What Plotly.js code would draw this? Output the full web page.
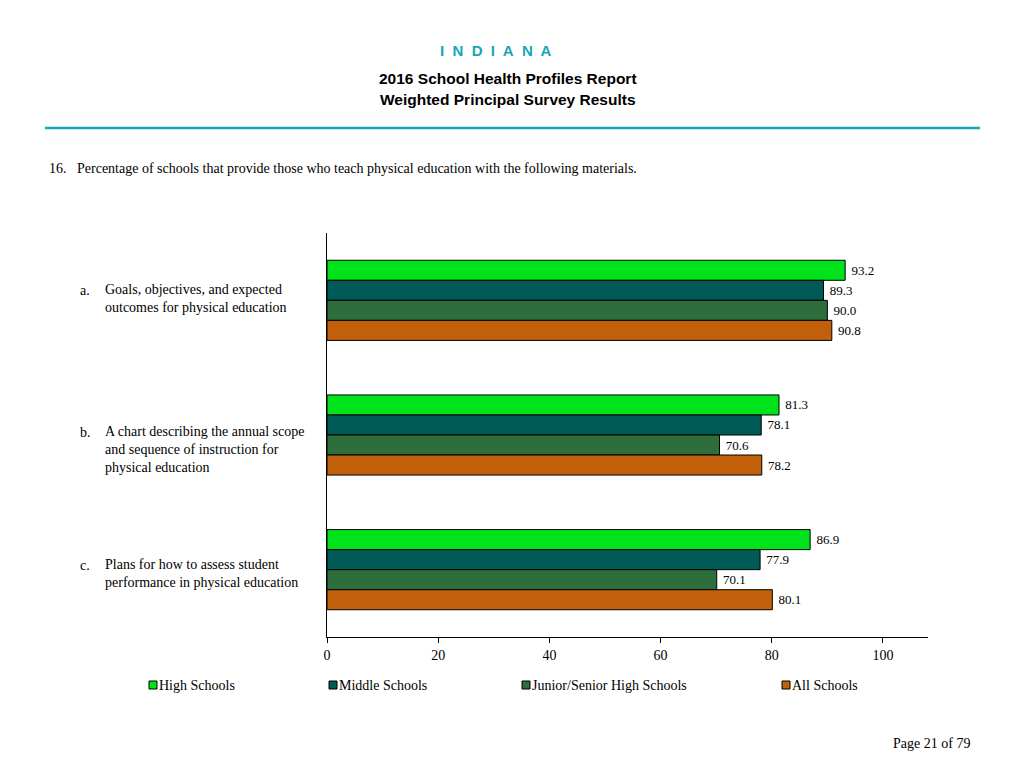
<!DOCTYPE html>
<html>
<head>
<meta charset="utf-8">
<script src="https://cdn.plot.ly/plotly-3.0.1.min.js"></script>
<style>html,body{margin:0;padding:0;background:#fff;}#chart{width:1024px;height:768px;}</style>
</head>
<body>
<div id="chart"></div>
<script>
const categories = ["a", "b", "c"];
const categoryLetters = ["a.", "b.", "c."];
const categoryLabels = [
  "Goals, objectives, and expected<br>outcomes for physical education",
  "A chart describing the annual scope<br>and sequence of instruction for<br>physical education",
  "Plans for how to assess student<br>performance in physical education"
];
const seriesNames = ["High Schools", "Middle Schools", "Junior/Senior High Schools", "All Schools"];
const highSchools = [93.2, 81.3, 86.9];
const middleSchools = [89.3, 78.1, 77.9];
const juniorSenior = [90.0, 70.6, 70.1];
const allSchools = [90.8, 78.2, 80.1];
const xTicks = [0, 20, 40, 60, 80, 100];

const seriesValues = [highSchools, middleSchools, juniorSenior, allSchools];
const colors = ["#00e21a", "#005a55", "#2d6e3c", "#c25f0b"];
const serif = "Liberation Serif, Times New Roman, serif";
const sans = "Liberation Sans, Arial, sans-serif";

const traces = seriesValues.map((vals, i) => ({
  type: "bar",
  orientation: "h",
  name: seriesNames[i],
  y: categories,
  x: vals,
  text: vals.map(v => "\u00a0" + v.toFixed(1)),
  textposition: "outside",
  cliponaxis: false,
  textfont: {family: serif, size: 13, color: "#000"},
  marker: {color: colors[i], line: {color: "#000", width: 1}},
  showlegend: false,
  hoverinfo: "x+name"
}));

// paper coordinate helpers (plot area: left 327, right 928, top 233, bottom 637)
const L = 327, R = 928, T = 233, B = 637;
const px = x => (x - L) / (R - L);
const py = y => (B - y) / (B - T);

const annotations = [];
annotations.push({xref: "paper", yref: "paper", x: px(496), y: py(50), text: "I\u00a0 N\u00a0 D\u00a0 I\u00a0 A\u00a0 N\u00a0 A", showarrow: false,
  font: {family: sans, size: 15, color: "#1aa5b5", weight: "bold"}, xanchor: "center", yanchor: "middle"});
annotations.push({xref: "paper", yref: "paper", x: px(508), y: py(78), text: "<b>2016 School Health Profiles Report</b>", showarrow: false,
  font: {family: sans, size: 15.5, color: "#000"}, xanchor: "center", yanchor: "middle"});
annotations.push({xref: "paper", yref: "paper", x: px(508), y: py(100), text: "<b>Weighted Principal Survey Results</b>", showarrow: false,
  font: {family: sans, size: 15.5, color: "#000"}, xanchor: "center", yanchor: "middle"});
annotations.push({xref: "paper", yref: "paper", x: px(47), y: py(168), text: "16.\u00a0\u00a0 Percentage of schools that provide those who teach physical education with the following materials.", showarrow: false,
  font: {family: serif, size: 14, color: "#000"}, xanchor: "left", yanchor: "middle"});
annotations.push({xref: "paper", yref: "paper", x: px(972), y: py(743), text: "Page 21 of 79", showarrow: false,
  font: {family: serif, size: 14, color: "#000"}, xanchor: "right", yanchor: "middle"});

const letterY = [290, 432, 565];
const blockY = [298.5, 449, 573.5];
categories.forEach((c, i) => {
  annotations.push({xref: "paper", yref: "paper", x: px(78), y: py(letterY[i]), text: categoryLetters[i], showarrow: false,
    font: {family: serif, size: 14, color: "#000"}, xanchor: "left", yanchor: "middle"});
  annotations.push({xref: "paper", yref: "paper", x: px(103), y: py(blockY[i]), text: categoryLabels[i], showarrow: false, align: "left",
    font: {family: serif, size: 14, color: "#000"}, xanchor: "left", yanchor: "middle"});
});

const shapes = [{type: "line", xref: "paper", yref: "paper", x0: px(45), x1: px(980), y0: py(128), y1: py(128),
  line: {color: "#1aa5b5", width: 2.5}}];

const legendX = [149, 329, 522, 782];
seriesNames.forEach((n, i) => {
  shapes.push({type: "rect", xref: "paper", yref: "paper", x0: px(legendX[i]), x1: px(legendX[i] + 8), y0: py(689), y1: py(681),
    fillcolor: colors[i], line: {color: "#000", width: 1}});
  annotations.push({xref: "paper", yref: "paper", x: px(legendX[i] + 8), y: py(685), text: n, showarrow: false,
    font: {family: serif, size: 14, color: "#000"}, xanchor: "left", yanchor: "middle"});
});

const layout = {
  width: 1024, height: 768,
  margin: {l: L, r: 1024 - R, t: T, b: 768 - B},
  paper_bgcolor: "#fff", plot_bgcolor: "#fff",
  barmode: "group", bargap: 0.405, bargroupgap: 0,
  showlegend: false,
  xaxis: {range: [0, 108.1], tickvals: xTicks, ticktext: xTicks.map(String), showgrid: false, zeroline: false,
    showline: true, linecolor: "#000", linewidth: 1, ticks: "outside", ticklen: 5, tickcolor: "#000",
    tickfont: {family: serif, size: 14, color: "#000"}, fixedrange: true},
  yaxis: {type: "category", autorange: "reversed", showticklabels: false, showgrid: false, zeroline: false,
    showline: true, linecolor: "#000", linewidth: 1, ticks: "", fixedrange: true},
  annotations: annotations,
  shapes: shapes
};

Plotly.newPlot("chart", traces, layout, {displayModeBar: false, staticPlot: true});
</script>
</body>
</html>
